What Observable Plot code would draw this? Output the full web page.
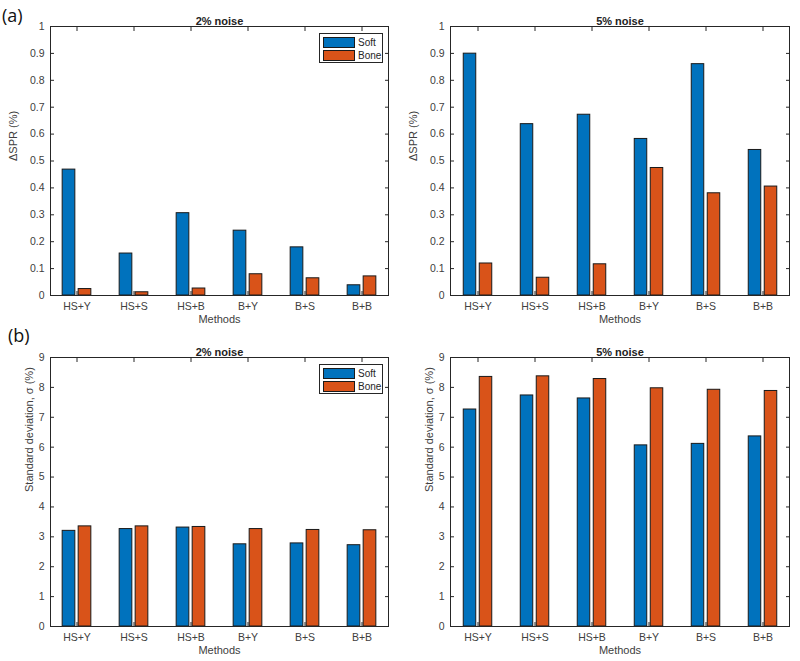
<!DOCTYPE html>
<html>
<head>
<meta charset="utf-8">
<script src="https://cdn.jsdelivr.net/npm/d3@7"></script>
<script src="https://cdn.jsdelivr.net/npm/@observablehq/plot@0.6"></script>
<style>
  html, body { margin: 0; padding: 0; background: #fff; }
  #wrap { position: relative; width: 800px; height: 661px; overflow: hidden; font-family: "Liberation Sans", Arial, sans-serif; }
  .panel { position: absolute; }
  .tag { position: absolute; font-family: "Open Sans", "Liberation Sans", sans-serif; font-size: 18px; color: #111; line-height: 1; }
  .legend { position: absolute; width: 62px; height: 28px; border: 1px solid #262626; background: #fff; font-size: 10px; color: #262626; }
  .legend .row { position: absolute; left: 3px; height: 10px; display: flex; align-items: center; }
  .legend .sw { width: 30px; height: 9px; border: 1px solid #1a1a1a; margin-right: 3px; }
</style>
</head>
<body>
<div id="wrap"></div>
<script>
// ---- data ----
const methods = ["HS+Y", "HS+S", "HS+B", "B+Y", "B+S", "B+B"];
const seriesNames = ["Soft", "Bone"];
const seriesColors = ["#0072BD", "#D95319"];

const dspr2Soft = [0.468, 0.156, 0.306, 0.241, 0.179, 0.038];
const dspr2Bone = [0.024, 0.012, 0.026, 0.079, 0.064, 0.071];
const dspr5Soft = [0.899, 0.637, 0.672, 0.582, 0.860, 0.541];
const dspr5Bone = [0.119, 0.066, 0.116, 0.474, 0.380, 0.405];
const sd2Soft = [3.20, 3.26, 3.31, 2.75, 2.78, 2.72];
const sd2Bone = [3.35, 3.35, 3.33, 3.26, 3.23, 3.22];
const sd5Soft = [7.26, 7.73, 7.63, 6.06, 6.11, 6.36];
const sd5Bone = [8.35, 8.37, 8.28, 7.97, 7.92, 7.88];

const yTicksSPR = [0, 0.1, 0.2, 0.3, 0.4, 0.5, 0.6, 0.7, 0.8, 0.9, 1];
const yTicksSD = [0, 1, 2, 3, 4, 5, 6, 7, 8, 9];

const titles = ["2% noise", "5% noise"];
const yLabelSPR = "\u0394SPR (%)";
const yLabelSD = "Standard deviation, \u03C3 (%)";
const xLabel = "Methods";
const panelTags = ["(a)", "(b)"];

// ---- build ----
const wrap = document.getElementById("wrap");

function rows(soft, bone) {
  return methods.map((m, i) => ({method: m, soft: soft[i], bone: bone[i]}));
}

function panel({left, top, height, marginTop, marginRight, title, yMax, yTicks, yLabel, yLabelDx, data}) {
  const width = 400;
  const marginLeft = 50, marginBottom = 35;
  const xInset = -3;
  const plotW = width - marginLeft - marginRight - 2 * xInset;
  const step = plotW / methods.length;
  const half = step / 2;
  const outer = 14.5, gap = 1.5;
  const ink = "#262626";
  const chart = Plot.plot({
    width, height, marginLeft, marginRight, marginTop, marginBottom,
    style: {fontFamily: "'Liberation Sans', Arial, sans-serif", fontSize: "10.5px", color: "#404040", background: "white", overflow: "visible"},
    x: {type: "band", domain: methods, paddingInner: 0, paddingOuter: 0, inset: xInset, axis: null},
    y: {domain: [0, yMax], axis: null},
    marks: [
      Plot.barY(data, {x: "method", y: "soft", fill: seriesColors[0], stroke: "#1a1a1a", strokeWidth: 1,
        insetLeft: half - outer, insetRight: half + gap}),
      Plot.barY(data, {x: "method", y: "bone", fill: seriesColors[1], stroke: "#1a1a1a", strokeWidth: 1,
        insetLeft: half + gap, insetRight: half - outer}),
      Plot.frame({stroke: ink, strokeWidth: 1}),
      Plot.axisY(yTicks, {anchor: "left", tickSize: -4, tickPadding: 10, stroke: ink, fill: "#404040", label: null, tickFormat: d3.format("~g")}),
      Plot.axisY(yTicks, {anchor: "right", tickSize: -4, stroke: ink, label: null, tickFormat: () => ""}),
      Plot.axisX({anchor: "bottom", tickSize: -4, tickPadding: 11, stroke: ink, fill: "#404040", label: null}),
      Plot.axisX({anchor: "top", tickSize: -4, stroke: ink, label: null, tickFormat: () => ""}),
      Plot.text([title], {frameAnchor: "top", dy: -9, fontWeight: "bold", fontSize: 11, fill: "#222"}),
      Plot.text([xLabel], {frameAnchor: "bottom", dy: 27, fontSize: 11, fill: "#404040"}),
      Plot.text([yLabel], {frameAnchor: "left", dx: yLabelDx, rotate: -90, fontSize: 11, fill: "#404040"})
    ]
  });
  const div = document.createElement("div");
  div.className = "panel";
  div.style.left = left + "px";
  div.style.top = top + "px";
  div.appendChild(chart);
  wrap.appendChild(div);
}

panel({left: 0, top: 0, height: 330, marginTop: 26, marginRight: 12, title: titles[0], yMax: 1, yTicks: yTicksSPR, yLabel: yLabelSPR, yLabelDx: -37, data: rows(dspr2Soft, dspr2Bone)});
panel({left: 400, top: 0, height: 330, marginTop: 26, marginRight: 11, title: titles[1], yMax: 1, yTicks: yTicksSPR, yLabel: yLabelSPR, yLabelDx: -37, data: rows(dspr5Soft, dspr5Bone)});
panel({left: 0, top: 330, height: 331, marginTop: 27, marginRight: 12, title: titles[0], yMax: 9, yTicks: yTicksSD, yLabel: yLabelSD, yLabelDx: -21, data: rows(sd2Soft, sd2Bone)});
panel({left: 400, top: 330, height: 331, marginTop: 27, marginRight: 11, title: titles[1], yMax: 9, yTicks: yTicksSD, yLabel: yLabelSD, yLabelDx: -21, data: rows(sd5Soft, sd5Bone)});

function tag(text, left, top) {
  const t = document.createElement("div");
  t.className = "tag";
  t.textContent = text;
  t.style.left = left + "px";
  t.style.top = top + "px";
  wrap.appendChild(t);
}
tag(panelTags[0], 2, 6);
tag(panelTags[1], 8, 326);

function legend(left, top) {
  const lg = document.createElement("div");
  lg.className = "legend";
  lg.style.left = left + "px";
  lg.style.top = top + "px";
  seriesNames.forEach((name, i) => {
    const r = document.createElement("div");
    r.className = "row";
    r.style.top = (3 + i * 13) + "px";
    const sw = document.createElement("div");
    sw.className = "sw";
    sw.style.background = seriesColors[i];
    const lab = document.createElement("span");
    lab.textContent = name;
    r.appendChild(sw);
    r.appendChild(lab);
    lg.appendChild(r);
  });
  wrap.appendChild(lg);
}
legend(319, 33);
legend(319, 364);
</script>
</body>
</html>
